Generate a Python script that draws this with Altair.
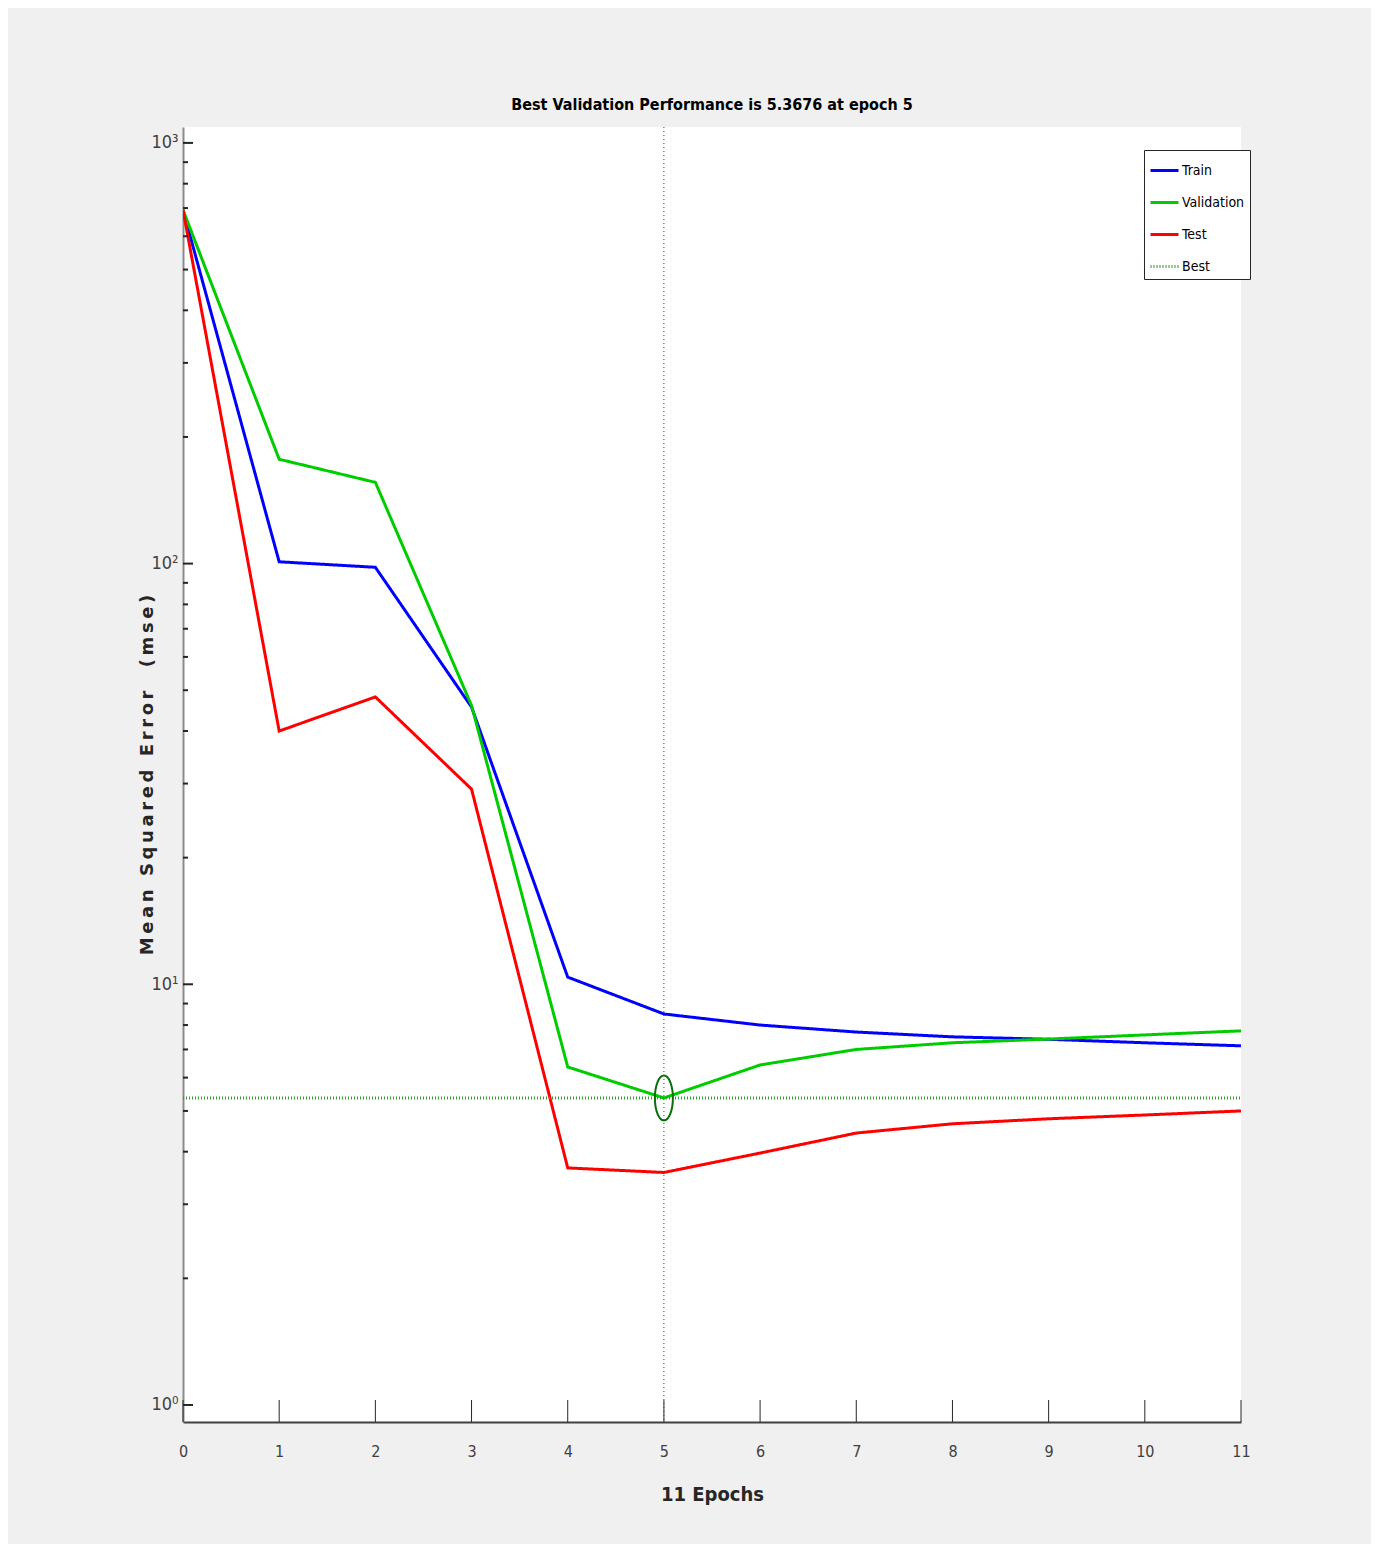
import altair as alt
import pandas as pd

epochs = list(range(12))
train = [693, 101, 98, 45.6, 10.4, 8.5, 8.0, 7.7, 7.5, 7.4, 7.26, 7.14]
validation = [693, 177, 156, 46, 6.36, 5.3676, 6.43, 7.0, 7.26, 7.41, 7.58, 7.75]
test = [693, 40, 48.2, 29.1, 3.66, 3.57, 3.97, 4.43, 4.66, 4.79, 4.89, 5.0]
best_epoch = 5
best_value = 5.3676
series_names = ["Train", "Validation", "Test", "Best"]
series_colors = ["#0000ff", "#00cc00", "#ff0000", "#2ca02c"]
y_major = [1, 10, 100, 1000]
y_minor = [2, 3, 4, 5, 6, 7, 8, 9, 20, 30, 40, 50, 60, 70, 80, 90,
           200, 300, 400, 500, 600, 700, 800, 900]
y_title = "\u2009".join("Mean Squared Error  (mse)")

FONT = "'DejaVu Sans Condensed', 'Liberation Sans', sans-serif"
W, H = 1058, 1295

rows = []
for name, vals in [("Train", train), ("Validation", validation), ("Test", test)]:
    for e, v in zip(epochs, vals):
        rows.append({"epoch": e, "mse": v, "series": name})
rows.append({"epoch": epochs[0], "mse": best_value, "series": "Best"})
rows.append({"epoch": epochs[-1], "mse": best_value, "series": "Best"})
df = pd.DataFrame(rows)

xscale = alt.Scale(domain=[0, 11], nice=False, zero=False)
yscale = alt.Scale(type="log", domain=[0.911, 1091], nice=False)

xaxis = alt.Axis(values=epochs, format="d", ticks=False, grid=False, labelFont=FONT, labelFontSize=16,
                 labelColor="#404040", labelPadding=21, labelAlign="center", labelFlush=False,
                 domainColor="#404040", domainWidth=2,
                 title="11 Epochs", titleFont=FONT, titleFontSize=20, titleFontWeight="bold",
                 titleColor="#262626", titlePadding=25)
yaxis = alt.Axis(values=y_major, ticks=False, grid=False, labelFont=FONT, labelFontSize=18,
                 labelColor="#404040", labelPadding=5, domainColor="#8c8c8c", domainWidth=2,
                 labelExpr="datum.value == 1 ? '10⁰' : datum.value == 10 ? '10¹' : datum.value == 100 ? '10²' : '10³'",
                 title=y_title, titleFont="DejaVu Sans", titleFontSize=18,
                 titleFontWeight="bold", titleColor="#262626", titlePadding=-6)

lines = alt.Chart(df).mark_line(clip=True).encode(
    x=alt.X("epoch:Q", scale=xscale, axis=xaxis),
    y=alt.Y("mse:Q", scale=yscale, axis=yaxis),
    color=alt.Color("series:N", scale=alt.Scale(domain=series_names, range=series_colors),
                    legend=alt.Legend(title=None, orient="none", legendX=961, legendY=23,
                                      labelFont=FONT, labelFontSize=14, labelColor="#000000",
                                      symbolType="stroke", symbolSize=784, padding=5,
                                      rowPadding=9, strokeColor="#262626", fillColor="white",
                                      labelOffset=2)),
    strokeDash=alt.StrokeDash("series:N", scale=alt.Scale(domain=series_names,
                              range=[[1, 0], [1, 0], [1, 0], [1, 2]]), legend=alt.Legend(title=None)),
    strokeWidth=alt.StrokeWidth("series:N", scale=alt.Scale(domain=series_names,
                                range=[3, 3, 3, 1]), legend=alt.Legend(title=None)),
    detail="series:N",
)

vline = alt.Chart(pd.DataFrame({"epoch": [best_epoch]})).mark_rule(
    color="#404040", strokeDash=[1, 3], strokeWidth=1).encode(x=alt.X("epoch:Q", scale=xscale))

marker = alt.Chart(pd.DataFrame({"epoch": [best_epoch], "mse": [best_value]})).mark_point(
    shape="M0,-1A0.4,1,0,1,1,0,1A0.4,1,0,1,1,0,-1Z", size=2025, filled=False,
    color="#0a6e0a", strokeWidth=2, opacity=1).encode(
    x=alt.X("epoch:Q", scale=xscale), y=alt.Y("mse:Q", scale=yscale))

xticks = alt.Chart(pd.DataFrame({"epoch": epochs})).mark_rule(color="#262626", strokeWidth=1).encode(
    x=alt.X("epoch:Q", scale=xscale), y=alt.value(H), y2=alt.value(H - 22))

ymaj = alt.Chart(pd.DataFrame({"v": y_major})).mark_rule(color="#262626", strokeWidth=2).encode(
    y=alt.Y("v:Q", scale=yscale), x=alt.value(0), x2=alt.value(10))
ymin = alt.Chart(pd.DataFrame({"v": y_minor})).mark_rule(color="#262626", strokeWidth=2).encode(
    y=alt.Y("v:Q", scale=yscale), x=alt.value(0), x2=alt.value(5))

chart = alt.layer(xticks, vline, lines, marker, ymaj, ymin).properties(
    width=W, height=H,
    title=alt.Title("Best Validation Performance is 5.3676 at epoch 5", font=FONT, fontSize=16,
                    fontWeight="bold", color="#000000", offset=14),
    autosize=alt.AutoSizeParams(type="none"),
    padding={"left": 175, "top": 119, "right": 130, "bottom": 122},
    background="#f0f0f0",
).configure_view(fill="white", stroke=None)

chart.save("out.html", embed_options={"renderer": "svg", "actions": False})
